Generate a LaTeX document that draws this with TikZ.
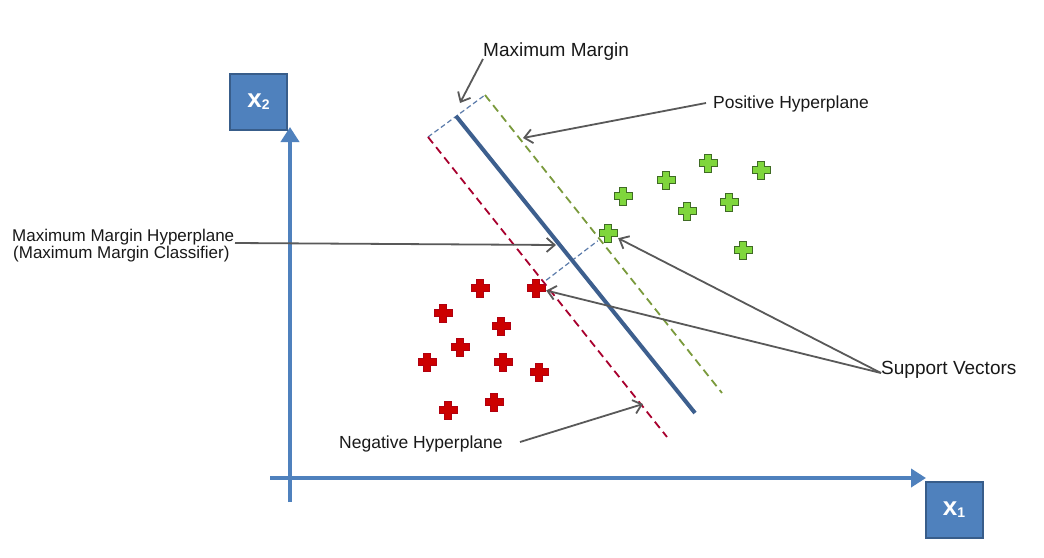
\documentclass[tikz,border=0pt]{standalone}
\usepackage{fontspec}
\setmainfont{Liberation Sans}
\usetikzlibrary{arrows.meta,calc}
\definecolor{axisblue}{HTML}{4F81BD}
\definecolor{boxborder}{HTML}{385D8A}
\definecolor{mainblue}{HTML}{3D5F8E}
\definecolor{negred}{HTML}{A8002E}
\definecolor{posgreen}{HTML}{7A9A3C}
\definecolor{margblue}{HTML}{5B7BAA}
\definecolor{arrowgray}{HTML}{595959}
\definecolor{redfill}{HTML}{CC0000}
\definecolor{redborder}{HTML}{B00010}
\definecolor{greenfill}{HTML}{7FD63C}
\definecolor{greenborder}{HTML}{3F6B24}
\tikzset{
  axisline/.style={draw=axisblue, line width=4pt, -{Triangle[length=15pt,width=18pt]}},
  axbox/.style={draw=boxborder, line width=2pt, fill=axisblue, minimum width=57pt, minimum height=56pt, inner sep=0pt, text=white, font=\fontsize{26}{26}\selectfont\bfseries},
  lbl/.style={inner sep=0pt, text=black!90, anchor=base west},
  pointer/.style={draw=arrowgray, line width=1.8pt, -{Straight Barb[length=8pt,width=14pt,line width=1.8pt]}},
  mainplane/.style={draw=mainblue, line width=4pt},
  negplane/.style={draw=negred, line width=1.8pt, dash pattern=on 8pt off 5pt},
  posplane/.style={draw=posgreen, line width=1.8pt, dash pattern=on 8pt off 5pt},
  marginline/.style={draw=margblue, line width=1.2pt, dash pattern=on 5pt off 3pt},
  plusmark/.style={minimum size=20pt, inner sep=0pt, path picture={
      \path[#1, line width=1pt, shift={(path picture bounding box.center)}]
        (-3.5,-9) -- (3.5,-9) -- (3.5,-3.5) -- (9,-3.5) -- (9,3.5) -- (3.5,3.5) -- (3.5,9)
        -- (-3.5,9) -- (-3.5,3.5) -- (-9,3.5) -- (-9,-3.5) -- (-3.5,-3.5) -- cycle;}},
  redplus/.style={plusmark={fill=redfill,draw=redborder}},
  greenplus/.style={plusmark={fill=greenfill,draw=greenborder}}
}
\begin{document}
\begin{tikzpicture}[x=1pt,y=-1pt]
\useasboundingbox[fill=white] (0,0) rectangle (1044,557);

% axes
\coordinate (yBot) at (290,502);
\coordinate (yTop) at (290,127);
\coordinate (xLeft) at (270,478);
\coordinate (xRight) at (926,478);
\draw[axisline] (yBot) -- (yTop);
\draw[axisline] (xLeft) -- (xRight);
\node[axbox] (x2box) at (258.5,102) {x\raisebox{-2pt}{\fontsize{14}{14}\selectfont 2}};
\node[axbox] (x1box) at (954,509.5) {x\raisebox{-2pt}{\fontsize{14}{14}\selectfont 1}};

% hyperplane end points
\coordinate (mTop) at (456,116);
\coordinate (mBot) at (695,413);
\coordinate (nTop) at (428,137);
\coordinate (nBot) at (667,437);
\coordinate (pTop) at (485,95);
\coordinate (pBot) at (722,393);

% points
\node[redplus] (r1) at (480,288) {};
\node[redplus] (r2) at (536,288) {};
\node[redplus] (r3) at (443,313) {};
\node[redplus] (r4) at (501,326) {};
\node[redplus] (r5) at (460,347) {};
\node[redplus] (r6) at (427,362) {};
\node[redplus] (r7) at (503,362) {};
\node[redplus] (r8) at (539,372) {};
\node[redplus] (r9) at (448,410) {};
\node[redplus] (r10) at (494,402) {};
\node[greenplus] (g1) at (623,196) {};
\node[greenplus] (g2) at (666,180) {};
\node[greenplus] (g3) at (708,163) {};
\node[greenplus] (g4) at (761,170) {};
\node[greenplus] (g5) at (729,202) {};
\node[greenplus] (g6) at (687,211) {};
\node[greenplus] (g7) at (608,233) {};
\node[greenplus] (g8) at (743,250) {};

% margin lines and hyperplanes
\draw[marginline] (nTop) -- (pTop);
\draw[marginline] (r2) -- (g7);
\draw[negplane] (nTop) -- (nBot);
\draw[posplane] (pTop) -- (pBot);
\draw[mainplane] (mTop) -- (mBot);

% labels
\node[lbl, font=\fontsize{19}{19}\selectfont] (lmm) at (483,56.5) {Maximum Margin};
\node[lbl, font=\fontsize{17.5}{17.5}\selectfont] (lph) at (713,108) {Positive Hyperplane};
\node[lbl, font=\fontsize{17}{17}\selectfont] (lmmh1) at (12,241) {Maximum Margin Hyperplane};
\node[lbl, font=\fontsize{17}{17}\selectfont] (lmmh2) at (13,258) {(Maximum Margin Classifier)};
\node[lbl, font=\fontsize{19}{19}\selectfont] (lsv) at (881,374) {Support Vectors};
\node[lbl, font=\fontsize{17.5}{17.5}\selectfont] (lnh) at (339,448) {Negative Hyperplane};

% pointers
\coordinate (mmTail) at (483,59);
\coordinate (mmTip) at (460,103);
\coordinate (phTail) at (706,103);
\coordinate (phTip) at (523,138);
\coordinate (mmhTail) at (235,243);
\coordinate (mmhTip) at (556,245);
\coordinate (svTail) at (881,373);
\coordinate (nhTail) at (520,442);
\coordinate (nhTip) at (643,404);
\draw[pointer] (mmTail) -- (mmTip);
\draw[pointer] (phTail) -- (phTip);
\draw[pointer] (mmhTail) -- (mmhTip);
\draw[pointer] (svTail) -- (g7);
\draw[pointer] (svTail) -- (r2);
\draw[pointer] (nhTail) -- (nhTip);
\end{tikzpicture}
\end{document}
